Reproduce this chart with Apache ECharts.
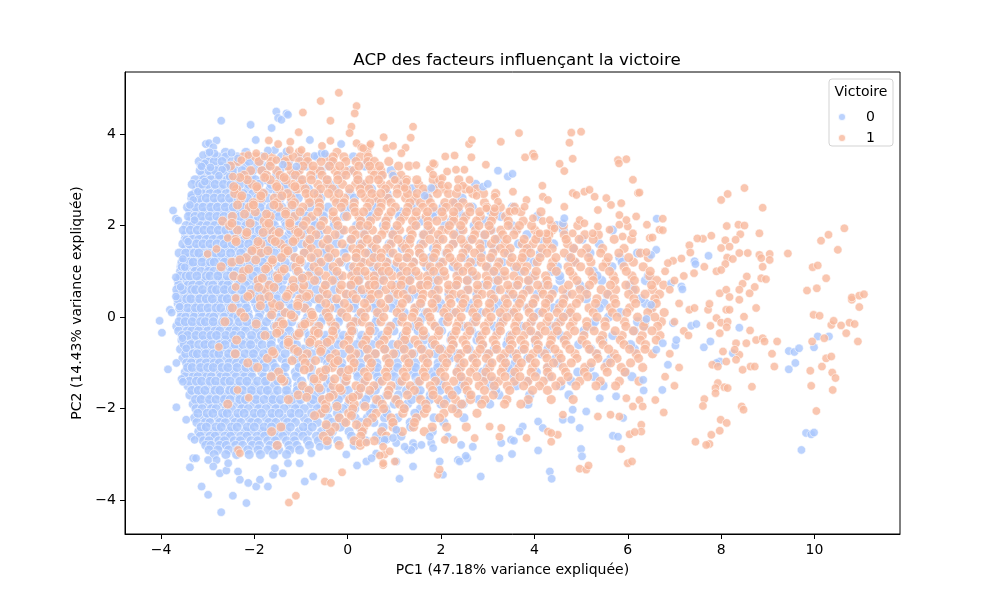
<!DOCTYPE html>
<html>
<head>
<meta charset="utf-8">
<script src="https://cdn.jsdelivr.net/npm/echarts@6/dist/echarts.min.js"></script>
<style>
html, body { margin: 0; padding: 0; background: #fff; }
#main { width: 1000px; height: 600px; }
</style>
</head>
<body>
<div id="main"></div>
<script>
// tick positions
var xTicks = [-4, -2, 0, 2, 4, 6, 8, 10];
var yTicks = [-4, -2, 0, 2, 4];

// Dense part of the cloud, read row by row.
// Each row: PC2 value first, then the PC1 values of the points on that row.
var blueRowsA = [
[3.6, -2.62, -2.18],
[3.5, -2.96, -2.78, -2.61, -2.37, -2.12, -1.84, -1.42, -1.03, -0.64, 0.12],
[3.3, -3.07, -2.91, -2.74, -2.55, -2.41, -2.19, -1.96, -1.71, -1.33, -0.88, -0.41, 0.37],
[3.1, -3.12, -2.94, -2.81, -2.63, -2.45, -2.24, -2.06, -1.77, -1.52, -1.16, -0.72, -0.13, 0.71],
[3.4, -3.18, -3.01, -2.86, -2.69, -2.48, -2.33, -2.11, -1.88, -1.61, -1.27, -0.91, -0.36, 0.42],
[3.2, -3.16, -2.97, -2.83, -2.62, -2.47, -2.26, -2.04, -1.83, -1.46, -1.08, -0.57, 0.06, 0.93],
[2.8, -3.23, -3.05, -2.88, -2.72, -2.51, -2.35, -2.13, -1.92, -1.66, -1.31, -0.84, -0.27, 0.51, 1.38],
[3.0, -3.27, -3.09, -2.93, -2.76, -2.58, -2.39, -2.17, -1.98, -1.74, -1.42, -1.02, -0.46, 0.22, 1.07],
[2.7, -3.28, -3.12, -2.95, -2.79, -2.6, -2.44, -2.24, -2.03, -1.79, -1.51, -1.14, -0.63, 0.05, 0.84, 1.69],
[2.5, -3.29, -3.14, -2.97, -2.81, -2.64, -2.47, -2.28, -2.07, -1.85, -1.58, -1.21, -0.75, -0.15, 0.63, 1.44, 2.31],
[2.9, -3.33, -3.17, -3.0, -2.84, -2.66, -2.5, -2.31, -2.12, -1.9, -1.64, -1.33, -0.96, -0.38, 0.31, 1.16, 1.92, 2.74],
[2.6, -3.34, -3.18, -3.03, -2.86, -2.7, -2.53, -2.35, -2.15, -1.93, -1.72, -1.44, -1.06, -0.58, 0.14, 0.88, 1.73, 2.45]
];
var orangeRowsA = [
[3.6, -1.04, -0.23, 0.41],
[3.5, -2.24, -1.97, -1.63, -1.29, -1.17, -0.86, -0.47, -0.31, -0.08, 0.27, 0.44],
[3.2, -2.08, -1.84, -1.52, -1.21, -1.04, -0.73, -0.59, -0.27, -0.06, 0.13, 0.52, 0.71],
[3.4, -2.35, -1.9, -1.64, -1.34, -1.03, -0.86, -0.57, -0.32, -0.04, 0.18, 0.43, 0.57, 0.88],
[3.1, -2.22, -1.74, -1.45, -1.12, -0.79, -0.55, -0.21, -0.04, 0.21, 0.57, 0.74, 0.97, 1.14],
[3.3, -2.51, -1.66, -1.28, -0.96, -0.74, -0.39, -0.17, 0.24, 0.47, 0.68, 1.09, 1.31],
[2.9, -2.04, -1.54, -1.18, -1.02, -0.64, -0.43, -0.11, 0.17, 0.36, 0.72, 0.91, 1.17, 1.52],
[2.6, -2.29, -1.86, -1.57, -1.21, -0.83, -0.63, -0.29, -0.07, 0.38, 0.61, 0.86, 1.24, 1.43, 1.72],
[3.0, -2.15, -1.66, -1.32, -0.97, -0.78, -0.44, -0.21, 0.22, 0.47, 0.66, 1.02, 1.26, 1.48, 1.83, 1.97, 2.38],
[2.8, -2.38, -1.93, -1.47, -1.08, -0.91, -0.58, -0.33, 0.04, 0.27, 0.46, 0.81, 1.07, 1.26, 1.62, 1.84, 2.07, 2.52, 2.76],
[2.5, -2.02, -1.52, -1.14, -0.82, -0.61, -0.24, -0.08, 0.14, 0.47, 0.72, 0.93, 1.33, 1.56, 1.77, 2.08, 2.26, 2.47, 2.93],
[2.7, -2.42, -1.81, -1.29, -0.89, -0.72, -0.41, -0.19, 0.29, 0.52, 0.71, 1.06, 1.28, 1.49, 1.92, 2.16, 2.33, 2.68, 2.91, 3.17]
];

var blueRowsB = [
[2.3, -3.38, -3.21, -3.05, -2.9, -2.73, -2.55, -2.38, -2.17, -1.98, -1.79, -1.52, -1.27, -0.94, -0.53, -0.06, 0.47, 1.12, 1.85, 2.38, 3.07],
[2.1, -3.37, -3.22, -3.07, -2.91, -2.76, -2.58, -2.42, -2.21, -2.03, -1.83, -1.6, -1.34, -1.05, -0.72, -0.28, 0.26, 0.83, 1.57, 2.22, 2.96],
[2.4, -3.43, -3.26, -3.1, -2.93, -2.79, -2.62, -2.45, -2.26, -2.07, -1.88, -1.66, -1.41, -1.13, -0.81, -0.42, 0.07, 0.61, 1.36, 2.04, 2.67, 3.53],
[2.2, -3.41, -3.27, -3.13, -2.96, -2.8, -2.65, -2.48, -2.3, -2.12, -1.92, -1.7, -1.47, -1.19, -0.88, -0.52, -0.07, 0.48, 1.11, 1.82, 2.49, 3.28, 4.06],
[1.8, -3.47, -3.3, -3.15, -2.99, -2.83, -2.68, -2.5, -2.33, -2.15, -1.95, -1.75, -1.53, -1.26, -0.97, -0.61, -0.18, 0.33, 0.96, 1.62, 2.31, 2.93, 3.84],
[2.0, -3.46, -3.32, -3.16, -3.01, -2.85, -2.7, -2.54, -2.36, -2.18, -1.99, -1.79, -1.57, -1.32, -1.04, -0.7, -0.29, 0.19, 0.77, 1.43, 2.08, 2.71, 3.52, 4.47],
[1.7, -3.48, -3.33, -3.19, -3.03, -2.88, -2.72, -2.56, -2.4, -2.21, -2.02, -1.83, -1.62, -1.38, -1.11, -0.78, -0.39, 0.07, 0.63, 1.28, 1.97, 2.64, 3.21, 4.16, 5.02],
[1.5, -3.47, -3.35, -3.2, -3.05, -2.9, -2.75, -2.59, -2.42, -2.24, -2.05, -1.86, -1.65, -1.43, -1.17, -0.86, -0.48, -0.03, 0.52, 1.17, 1.84, 2.53, 3.14, 3.87, 4.83],
[1.9, -3.52, -3.37, -3.22, -3.08, -2.93, -2.77, -2.61, -2.45, -2.28, -2.09, -1.89, -1.69, -1.47, -1.22, -0.93, -0.57, -0.13, 0.38, 1.01, 1.72, 2.41, 3.08, 3.59, 4.62, 5.67],
[1.6, -3.53, -3.39, -3.24, -3.1, -2.95, -2.8, -2.64, -2.47, -2.3, -2.12, -1.93, -1.73, -1.51, -1.27, -0.99, -0.66, -0.24, 0.27, 0.89, 1.57, 2.26, 2.92, 3.66, 4.41, 5.39]
];
var orangeRowsB = [
[2.2, -2.47, -1.66, -1.14, -0.77, -0.31, -0.02, 0.24, 0.62, 0.87, 1.21, 1.46, 1.68, 2.04, 2.27, 2.53, 2.84, 3.12, 3.38],
[2.4, -2.11, -1.47, -0.96, -0.6, -0.14, 0.13, 0.42, 0.71, 1.02, 1.29, 1.61, 1.83, 2.11, 2.37, 2.61, 2.98, 3.27, 3.57],
[2.1, -2.68, -1.79, -1.24, -0.89, -0.52, -0.24, 0.28, 0.49, 0.82, 1.13, 1.39, 1.72, 1.91, 2.27, 2.48, 2.76, 3.08, 3.44, 3.76],
[2.3, -1.98, -1.33, -1.02, -0.64, -0.31, 0.16, 0.34, 0.66, 0.93, 1.26, 1.47, 1.71, 2.02, 2.27, 2.62, 2.83, 3.14, 3.47, 3.71, 4.14],
[1.9, -2.36, -1.64, -1.12, -0.79, -0.44, -0.08, 0.11, 0.53, 0.78, 1.11, 1.35, 1.78, 2.02, 2.16, 2.47, 2.74, 3.06, 3.28, 3.62, 4.01, 4.38],
[1.6, -1.86, -1.44, -0.87, -0.53, -0.12, 0.31, 0.52, 0.93, 1.17, 1.32, 1.62, 1.91, 2.26, 2.49, 2.83, 3.08, 3.37, 3.74, 3.97, 4.28, 4.71],
[2.0, -2.53, -1.74, -1.24, -0.95, -0.58, -0.21, 0.27, 0.43, 0.82, 1.06, 1.46, 1.72, 2.18, 2.42, 2.81, 3.03, 3.44, 3.68, 3.94, 4.37, 4.62, 4.93],
[1.8, -2.17, -1.53, -1.01, -0.68, -0.27, 0.17, 0.36, 0.73, 0.97, 1.38, 1.63, 1.94, 2.27, 2.72, 2.94, 3.32, 3.56, 4.07, 4.31, 4.64, 5.08, 5.37],
[1.5, -1.97, -1.34, -0.78, -0.39, 0.11, 0.26, 0.61, 0.84, 1.24, 1.53, 1.91, 2.17, 2.58, 2.84, 3.27, 3.48, 3.84, 4.16, 4.38, 4.84, 5.12, 5.46, 5.92],
[1.7, -2.41, -1.62, -1.13, -0.81, -0.43, 0.08, 0.42, 0.63, 1.08, 1.34, 1.76, 2.04, 2.43, 2.67, 3.16, 3.41, 3.78, 4.03, 4.27, 4.68, 4.96, 5.26, 5.71, 6.08]
];

var blueRowsC = [
[1.3, -3.52, -3.41, -3.22, -3.11, -2.9, -2.77, -2.61, -2.38, -2.21, -1.93, -1.74, -1.43, -1.15, -0.71, -0.36, 0.19, 0.61, 1.26, 1.78, 2.51, 3.09, 3.82, 4.74, 5.83],
[1.1, -3.57, -3.36, -3.25, -3.05, -2.96, -2.74, -2.58, -2.47, -2.24, -1.98, -1.81, -1.49, -1.22, -0.84, -0.45, 0.04, 0.55, 1.03, 1.69, 2.26, 2.99, 3.58, 4.49, 5.66],
[1.4, -3.61, -3.47, -3.29, -3.19, -2.99, -2.83, -2.71, -2.51, -2.29, -2.06, -1.86, -1.57, -1.28, -0.93, -0.49, -0.08, 0.45, 0.91, 1.55, 2.11, 2.86, 3.44, 4.13, 5.19, 6.21],
[1.2, -3.55, -3.39, -3.31, -3.12, -2.94, -2.86, -2.64, -2.44, -2.33, -2.09, -1.82, -1.63, -1.34, -0.99, -0.62, -0.14, 0.31, 0.85, 1.41, 1.98, 2.71, 3.31, 3.99, 4.87, 5.88],
[0.8, -3.63, -3.44, -3.33, -3.16, -3.04, -2.81, -2.69, -2.55, -2.35, -2.12, -1.91, -1.66, -1.39, -1.02, -0.66, -0.27, 0.24, 0.69, 1.29, 1.86, 2.57, 3.18, 3.89, 4.55, 5.44, 6.38],
[1.0, -3.58, -3.49, -3.27, -3.14, -2.98, -2.87, -2.72, -2.49, -2.37, -2.16, -1.94, -1.69, -1.45, -1.09, -0.78, -0.31, 0.11, 0.62, 1.13, 1.77, 2.38, 3.11, 3.71, 4.38, 5.26],
[0.7, -3.62, -3.42, -3.32, -3.18, -2.97, -2.89, -2.68, -2.57, -2.34, -2.19, -1.96, -1.71, -1.49, -1.19, -0.81, -0.46, 0.06, 0.47, 1.06, 1.59, 2.31, 2.92, 3.61, 4.21, 4.97, 6.04],
[0.5, -3.64, -3.51, -3.36, -3.17, -3.08, -2.93, -2.74, -2.62, -2.41, -2.21, -1.99, -1.78, -1.53, -1.21, -0.92, -0.54, -0.03, 0.36, 0.96, 1.47, 2.17, 2.77, 3.46, 4.06, 4.69, 5.55],
[0.9, -3.59, -3.46, -3.38, -3.23, -3.03, -2.95, -2.78, -2.58, -2.44, -2.24, -2.03, -1.81, -1.55, -1.33, -0.97, -0.63, -0.19, 0.29, 0.78, 1.38, 1.99, 2.68, 3.29, 3.97, 4.54, 5.34, 6.44],
[0.6, -3.66, -3.53, -3.34, -3.26, -3.11, -2.91, -2.81, -2.64, -2.47, -2.27, -2.06, -1.84, -1.63, -1.38, -1.07, -0.67, -0.28, 0.21, 0.67, 1.27, 1.87, 2.56, 3.17, 3.84, 4.42, 5.09, 6.11]
];
var orangeRowsC = [
[1.2, -2.48, -1.62, -1.02, -0.57, -0.18, 0.32, 0.48, 0.83, 1.06, 1.41, 1.63, 2.04, 2.28, 2.63, 2.86, 3.24, 3.49, 3.71, 4.06, 4.39, 4.87, 5.21, 5.54, 6.12],
[1.4, -1.86, -1.34, -0.93, -0.64, -0.27, 0.19, 0.38, 0.72, 0.97, 1.32, 1.54, 1.88, 2.13, 2.47, 2.72, 3.11, 3.36, 3.77, 3.92, 4.27, 4.64, 5.01, 5.42, 5.81, 6.27],
[1.1, -2.71, -1.71, -1.11, -0.72, -0.31, 0.13, 0.27, 0.66, 0.82, 1.19, 1.37, 1.77, 1.96, 2.36, 2.58, 2.97, 3.21, 3.62, 3.84, 4.36, 4.72, 4.99, 5.47, 5.92, 6.33],
[1.3, -2.17, -1.42, -1.13, -0.78, -0.41, -0.03, 0.18, 0.56, 0.71, 1.09, 1.27, 1.62, 1.84, 2.19, 2.43, 2.86, 3.06, 3.52, 3.74, 4.12, 4.46, 4.78, 5.16, 5.58, 6.02, 6.44],
[0.9, -2.44, -1.51, -0.84, -0.47, -0.11, 0.08, 0.44, 0.57, 0.96, 1.14, 1.53, 1.71, 2.08, 2.34, 2.76, 2.97, 3.37, 3.56, 4.01, 4.24, 4.83, 5.24, 5.69, 6.09, 6.47],
[0.6, -1.76, -1.22, -0.96, -0.52, -0.16, 0.31, 0.48, 0.82, 1.02, 1.39, 1.58, 1.94, 2.17, 2.58, 2.79, 3.27, 3.48, 3.89, 4.16, 4.61, 4.98, 5.43, 5.74, 6.16, 6.53],
[1.0, -2.23, -1.41, -1.06, -0.62, -0.23, 0.21, 0.37, 0.74, 0.88, 1.27, 1.46, 1.84, 2.06, 2.47, 2.67, 3.13, 3.36, 3.79, 4.04, 4.47, 4.76, 5.18, 5.61, 5.97, 6.48],
[0.8, -1.92, -1.17, -0.71, -0.33, 0.14, 0.23, 0.57, 0.77, 1.18, 1.33, 1.72, 1.94, 2.36, 2.56, 3.01, 3.22, 3.67, 3.87, 4.27, 4.91, 5.26, 5.72, 6.14, 6.62],
[0.5, -2.09, -1.28, -0.83, -0.44, -0.03, 0.11, 0.52, 0.66, 1.07, 1.19, 1.62, 1.81, 2.26, 2.43, 2.88, 3.07, 3.54, 3.76, 4.19, 4.38, 4.81, 5.12, 5.57, 6.02, 6.37, 6.68],
[0.7, -1.68, -0.94, -0.48, -0.13, 0.07, 0.46, 0.58, 0.94, 1.14, 1.56, 1.71, 2.16, 2.33, 2.78, 2.99, 3.43, 3.64, 4.07, 4.29, 4.73, 5.18, 5.63, 5.96, 6.51, 6.77]
];

var blueRowsD = [
[0.3, -3.63, -3.51, -3.32, -3.21, -3.04, -2.86, -2.77, -2.55, -2.42, -2.2, -1.97, -1.76, -1.44, -1.24, -0.86, -0.58, -0.19, 0.15, 0.61, 1.02, 1.56, 1.99, 2.67, 3.25, 3.96, 4.54, 5.49, 6.38],
[0.1, -3.56, -3.38, -3.27, -3.12, -2.94, -2.81, -2.63, -2.49, -2.28, -2.14, -1.88, -1.64, -1.39, -1.11, -0.79, -0.43, -0.12, 0.34, 0.69, 1.21, 1.67, 2.27, 2.84, 3.52, 4.09, 4.73, 5.84],
[0.4, -3.64, -3.45, -3.36, -3.17, -3.03, -2.9, -2.69, -2.58, -2.37, -2.21, -2.02, -1.79, -1.52, -1.33, -0.98, -0.71, -0.35, 0.08, 0.43, 0.91, 1.32, 1.87, 2.41, 3.09, 3.63, 4.31, 5.11, 6.28],
[0.2, -3.6, -3.43, -3.26, -3.14, -2.99, -2.82, -2.72, -2.51, -2.33, -2.17, -1.93, -1.71, -1.48, -1.21, -0.94, -0.6, -0.24, 0.14, 0.56, 0.94, 1.48, 1.95, 2.58, 3.13, 3.85, 4.41, 5.39, 6.49],
[-0.2, -3.66, -3.5, -3.39, -3.23, -3.08, -2.92, -2.78, -2.6, -2.44, -2.24, -2.05, -1.82, -1.57, -1.29, -1.0, -0.67, -0.31, 0.06, 0.52, 0.9, 1.43, 1.89, 2.47, 3.14, 3.71, 4.39, 5.24, 6.36],
[0.0, -3.57, -3.47, -3.29, -3.11, -2.96, -2.87, -2.65, -2.46, -2.35, -2.12, -1.9, -1.67, -1.45, -1.17, -0.86, -0.52, -0.16, 0.23, 0.64, 1.11, 1.61, 2.09, 2.73, 3.31, 3.98, 4.61, 5.59],
[-0.3, -3.62, -3.44, -3.34, -3.19, -3.0, -2.84, -2.74, -2.53, -2.39, -2.19, -1.95, -1.78, -1.5, -1.25, -0.94, -0.64, -0.25, 0.12, 0.58, 0.99, 1.51, 2.01, 2.65, 3.21, 3.88, 4.47, 5.06, 6.14],
[-0.5, -3.55, -3.4, -3.3, -3.09, -2.98, -2.79, -2.62, -2.49, -2.26, -2.08, -1.91, -1.64, -1.41, -1.18, -0.84, -0.49, -0.15, 0.28, 0.66, 1.16, 1.63, 2.21, 2.77, 3.44, 4.02, 4.66, 5.46],
[-0.1, -3.61, -3.48, -3.33, -3.15, -3.05, -2.88, -2.68, -2.55, -2.32, -2.16, -1.96, -1.74, -1.47, -1.2, -0.91, -0.57, -0.2, 0.19, 0.61, 1.05, 1.54, 2.04, 2.7, 3.29, 3.94, 4.52, 5.29, 6.21],
[-0.4, -3.54, -3.43, -3.25, -3.1, -2.93, -2.81, -2.61, -2.44, -2.29, -2.06, -1.85, -1.66, -1.39, -1.12, -0.82, -0.47, -0.09, 0.3, 0.73, 1.19, 1.66, 2.23, 2.81, 3.48, 4.05, 4.56, 5.68]
];
var orangeRowsD = [
[0.2, -2.47, -1.58, -0.92, -0.38, 0.02, 0.41, 0.79, 1.13, 1.44, 1.83, 2.12, 2.43, 2.71, 3.04, 3.36, 3.62, 3.88, 4.24, 4.53, 4.79, 5.17, 5.63, 6.04, 6.52],
[0.4, -1.87, -1.03, -0.61, -0.24, 0.18, 0.49, 0.88, 1.27, 1.59, 1.91, 2.18, 2.51, 2.77, 3.13, 3.38, 3.72, 4.01, 4.32, 4.63, 4.97, 5.34, 5.71, 6.13, 6.58],
[0.1, -2.29, -1.34, -0.78, -0.46, -0.13, 0.29, 0.64, 1.06, 1.42, 1.71, 2.06, 2.32, 2.68, 2.97, 3.27, 3.56, 3.89, 4.18, 4.49, 4.77, 5.26, 5.67, 5.98, 6.43, 6.78],
[0.3, -1.61, -1.07, -0.47, -0.07, 0.36, 0.71, 1.17, 1.56, 1.81, 2.21, 2.47, 2.79, 3.04, 3.42, 3.68, 3.97, 4.24, 4.61, 4.9, 5.31, 5.74, 6.17, 6.61],
[-0.1, -2.63, -1.42, -0.82, -0.36, 0.14, 0.31, 0.71, 1.16, 1.51, 1.79, 2.14, 2.38, 2.74, 3.02, 3.33, 3.61, 3.93, 4.27, 4.56, 4.83, 5.12, 5.51, 5.93, 6.36, 6.72],
[-0.4, -1.77, -1.08, -0.71, -0.31, 0.04, 0.43, 0.84, 1.24, 1.62, 1.94, 2.28, 2.56, 2.88, 3.19, 3.52, 3.77, 4.09, 4.38, 4.71, 5.06, 5.46, 5.88, 6.31, 6.69],
[0.0, -2.21, -1.16, -0.74, -0.41, -0.02, 0.37, 0.77, 1.18, 1.38, 1.76, 2.16, 2.43, 2.76, 3.07, 3.41, 3.66, 3.98, 4.31, 4.62, 4.91, 5.34, 5.77, 6.21, 6.58],
[-0.2, -1.52, -0.97, -0.62, -0.27, 0.07, 0.47, 0.92, 1.28, 1.53, 1.87, 2.34, 2.58, 2.93, 3.26, 3.58, 3.83, 4.14, 4.46, 4.77, 5.13, 5.52, 5.96, 6.34, 6.64],
[-0.5, -2.38, -1.27, -0.77, -0.37, 0.02, 0.39, 0.78, 1.22, 1.44, 1.82, 2.23, 2.47, 2.84, 3.12, 3.48, 3.71, 4.02, 4.36, 4.64, 5.02, 5.41, 5.84, 6.27, 6.61],
[-0.3, -1.46, -0.71, -0.32, 0.09, 0.48, 0.86, 1.26, 1.62, 1.96, 2.32, 2.62, 2.96, 3.27, 3.61, 3.92, 4.23, 4.49, 4.86, 5.28, 5.73, 6.12, 6.52]
];

var blueRowsE = [
[-0.7, -3.58, -3.41, -3.3, -3.12, -2.99, -2.81, -2.69, -2.49, -2.35, -2.11, -1.95, -1.69, -1.49, -1.19, -0.95, -0.62, -0.34, 0.05, 0.37, 0.79, 1.16, 1.61, 2.01, 2.6, 3.14, 3.74, 4.29, 5.21, 6.14],
[-0.9, -3.53, -3.37, -3.24, -3.07, -2.93, -2.78, -2.59, -2.45, -2.27, -2.04, -1.86, -1.62, -1.41, -1.13, -0.86, -0.54, -0.22, 0.14, 0.45, 0.88, 1.29, 1.69, 2.19, 2.71, 3.34, 3.86, 4.46, 5.64],
[-0.6, -3.5, -3.36, -3.19, -3.06, -2.9, -2.74, -2.63, -2.41, -2.24, -2.08, -1.83, -1.64, -1.37, -1.1, -0.81, -0.49, -0.2, 0.19, 0.52, 0.96, 1.32, 1.81, 2.25, 2.88, 3.41, 4.04, 4.95, 6.06],
[-0.8, -3.47, -3.31, -3.22, -3.04, -2.87, -2.76, -2.55, -2.4, -2.2, -2.02, -1.8, -1.59, -1.34, -1.06, -0.77, -0.45, -0.11, 0.25, 0.59, 1.03, 1.41, 1.89, 2.36, 2.99, 3.54, 4.15, 5.33],
[-1.2, -3.48, -3.34, -3.2, -3.09, -2.91, -2.73, -2.61, -2.44, -2.23, -2.07, -1.84, -1.6, -1.4, -1.12, -0.8, -0.51, -0.14, 0.2, 0.6, 0.95, 1.4, 1.81, 2.35, 2.89, 3.5, 4.04, 4.93, 5.95],
[-1.0, -3.45, -3.35, -3.16, -3.03, -2.86, -2.75, -2.54, -2.38, -2.24, -2.0, -1.79, -1.61, -1.32, -1.05, -0.79, -0.43, -0.13, 0.27, 0.62, 1.06, 1.45, 1.94, 2.41, 3.04, 3.59, 4.5, 5.56],
[-1.3, -3.48, -3.31, -3.21, -3.02, -2.92, -2.72, -2.6, -2.39, -2.21, -2.05, -1.8, -1.62, -1.35, -1.1, -0.77, -0.48, -0.1, 0.22, 0.64, 1.0, 1.46, 1.86, 2.4, 2.94, 3.56, 4.31, 5.29, 6.09],
[-1.5, -3.42, -3.28, -3.17, -2.99, -2.84, -2.71, -2.52, -2.36, -2.17, -2.0, -1.76, -1.57, -1.3, -1.07, -0.73, -0.44, -0.07, 0.3, 0.64, 1.08, 1.47, 1.96, 2.44, 3.06, 3.61, 4.56, 5.47],
[-1.1, -3.43, -3.33, -3.15, -3.0, -2.88, -2.69, -2.57, -2.37, -2.18, -2.02, -1.77, -1.55, -1.34, -1.04, -0.78, -0.42, -0.12, 0.29, 0.63, 1.07, 1.45, 1.93, 2.39, 3.0, 3.44, 4.29, 5.19],
[-1.4, -3.39, -3.24, -3.13, -2.95, -2.83, -2.64, -2.52, -2.31, -2.16, -1.93, -1.76, -1.5, -1.3, -0.99, -0.72, -0.37, -0.06, 0.34, 0.68, 1.12, 1.51, 2.0, 2.47, 3.12, 3.84, 4.79]
];
var orangeRowsE = [
[-0.8, -2.41, -1.58, -0.87, -0.26, 0.17, 0.59, 0.98, 1.37, 1.74, 2.14, 2.42, 2.77, 3.02, 3.36, 3.61, 3.97, 4.22, 4.52, 4.87, 5.33, 5.71, 6.18, 6.53],
[-0.6, -1.27, -0.62, -0.08, 0.32, 0.69, 1.08, 1.51, 1.87, 2.26, 2.53, 2.89, 3.17, 3.52, 3.79, 4.08, 4.34, 4.68, 5.12, 5.47, 5.92, 6.38],
[-0.9, -1.72, -0.96, -0.37, 0.07, 0.44, 0.83, 1.23, 1.62, 2.04, 2.37, 2.68, 2.97, 3.28, 3.63, 3.91, 4.27, 4.57, 4.91, 5.36, 5.77, 6.23],
[-0.7, -1.14, -0.56, 0.04, 0.42, 0.79, 1.21, 1.58, 1.97, 2.21, 2.56, 2.84, 3.19, 3.47, 3.78, 4.07, 4.44, 4.76, 5.18, 5.59, 6.04, 6.37],
[-1.1, -1.93, -0.82, -0.33, 0.11, 0.48, 0.86, 1.27, 1.66, 2.07, 2.42, 2.71, 3.04, 3.33, 3.67, 3.96, 4.28, 4.62, 5.08, 5.51, 5.86, 6.32],
[-1.4, -1.37, -0.66, -0.04, 0.37, 0.74, 1.16, 1.54, 1.88, 2.27, 2.58, 2.91, 3.23, 3.57, 3.86, 4.19, 4.57, 4.97, 5.41, 5.82, 6.24],
[-1.0, -2.14, -0.91, -0.28, 0.14, 0.51, 0.89, 1.31, 1.71, 2.12, 2.49, 2.76, 3.09, 3.38, 3.72, 4.02, 4.41, 4.79, 5.22, 5.63, 6.06],
[-1.2, -1.48, -0.59, -0.14, 0.36, 0.81, 1.19, 1.62, 1.99, 2.34, 2.63, 2.96, 3.29, 3.58, 3.93, 4.28, 4.67, 5.07, 5.56, 5.94],
[-1.5, -0.97, -0.31, 0.18, 0.56, 0.93, 1.34, 1.77, 2.11, 2.51, 2.82, 3.14, 3.42, 3.77, 4.11, 4.46, 4.89, 5.32, 5.74],
[-1.3, -1.64, -0.53, -0.02, 0.43, 0.84, 1.24, 1.66, 2.08, 2.43, 2.77, 3.08, 3.37, 3.69, 4.02, 4.37, 4.72, 5.14]
];

var blueRowsF = [
[-1.7, -3.38, -3.19, -3.11, -2.93, -2.76, -2.63, -2.44, -2.3, -2.09, -1.94, -1.71, -1.57, -1.31, -1.16, -0.87, -0.68, -0.35, -0.13, 0.22, 0.46, 0.84, 1.09, 1.51, 1.77, 2.21, 2.6, 3.24, 3.9, 4.74],
[-1.9, -3.31, -3.18, -3.0, -2.89, -2.68, -2.58, -2.36, -2.24, -2.01, -1.88, -1.64, -1.49, -1.24, -1.06, -0.78, -0.59, -0.24, 0.02, 0.34, 0.61, 1.0, 1.28, 1.67, 2.0, 2.47, 3.04, 3.86],
[-1.6, -3.34, -3.2, -3.06, -2.84, -2.74, -2.53, -2.43, -2.25, -2.06, -1.86, -1.72, -1.5, -1.31, -1.08, -0.89, -0.57, -0.36, 0.01, 0.24, 0.59, 0.89, 1.26, 1.55, 1.98, 2.34, 3.17],
[-1.8, -3.26, -3.14, -2.96, -2.82, -2.64, -2.52, -2.31, -2.19, -1.96, -1.79, -1.6, -1.44, -1.19, -1.01, -0.74, -0.53, -0.2, 0.06, 0.39, 0.69, 1.06, 1.37, 1.76, 2.12, 2.81],
[-2.2, -3.28, -3.09, -2.97, -2.77, -2.66, -2.45, -2.33, -2.12, -1.97, -1.75, -1.6, -1.37, -1.19, -0.93, -0.73, -0.42, -0.18, 0.16, 0.42, 0.79, 1.07, 1.48, 1.85, 2.49],
[-2.0, -3.25, -3.12, -2.92, -2.82, -2.6, -2.49, -2.27, -2.13, -1.91, -1.75, -1.54, -1.36, -1.12, -0.93, -0.65, -0.43, -0.1, 0.15, 0.53, 0.81, 1.21, 1.56, 2.33],
[-2.3, -3.23, -3.05, -2.95, -2.74, -2.62, -2.41, -2.29, -2.06, -1.92, -1.69, -1.54, -1.29, -1.12, -0.85, -0.65, -0.34, -0.08, 0.28, 0.56, 0.96, 1.34, 2.06],
[-2.5, -3.19, -3.07, -2.87, -2.76, -2.55, -2.43, -2.2, -2.07, -1.84, -1.7, -1.45, -1.3, -1.04, -0.85, -0.56, -0.33, 0.03, 0.32, 0.73, 1.06, 1.81],
[-2.1, -3.21, -3.01, -2.89, -2.68, -2.58, -2.35, -2.22, -2.0, -1.85, -1.62, -1.47, -1.21, -1.04, -0.77, -0.54, -0.22, 0.09, 0.49, 0.84, 1.44],
[-2.4, -3.14, -3.03, -2.82, -2.71, -2.49, -2.37, -2.15, -2.0, -1.79, -1.63, -1.39, -1.23, -0.95, -0.76, -0.45, -0.16, 0.26, 0.76, 1.35],
[-2.6, -3.16, -2.95, -2.84, -2.63, -2.51, -2.29, -2.16, -1.94, -1.78, -1.56, -1.39, -1.14, -0.96, -0.67, -0.4, 0.08, 0.62, 1.14],
[-2.7, -3.09, -2.97, -2.76, -2.64, -2.43, -2.3, -2.07, -1.93, -1.71, -1.55, -1.31, -1.14, -0.86, -0.63, -0.21, 0.38, 0.72],
[-2.8, -3.04, -2.93, -2.74, -2.6, -2.4, -2.25, -2.04, -1.89, -1.66, -1.51, -1.26, -1.09, -0.82, -0.44, 0.14],
[-2.9, -2.97, -2.78, -2.55, -2.36, -2.14, -1.92, -1.71, -1.48, -1.24, -1.03],
[-3.0, -2.86, -2.61, -2.38, -2.11, -1.87, -1.59, -1.31]
];
var orangeRowsF = [
[-1.8, -1.27, -0.54, 0.04, 0.62, 1.03, 1.56, 1.94, 2.31, 2.63, 2.94, 3.41, 3.87, 4.36, 4.83],
[-1.6, -0.83, -0.14, 0.47, 0.88, 1.43, 1.82, 2.17, 2.56, 2.93, 3.47, 3.96, 4.28],
[-1.9, -2.57, -0.47, 0.14, 0.74, 1.11, 1.67, 2.07, 2.44, 2.87, 3.36, 3.71],
[-1.7, -1.06, -0.31, 0.23, 0.86, 1.28, 1.83, 2.24, 2.64, 3.12],
[-2.1, -0.57, 0.02, 0.61, 1.18, 1.64, 2.06, 2.36, 2.77],
[-2.4, -1.43, -0.27, 0.34, 0.97, 1.41, 1.81, 2.12, 2.54],
[-2.0, -0.48, 0.11, 0.77, 1.21, 1.69, 2.24],
[-2.2, -0.18, 0.53, 0.93, 1.47, 1.97],
[-2.5, -1.63, -0.37, 0.31, 0.73, 1.17, 1.64],
[-2.3, -0.04, 0.42, 0.97, 1.43],
[-2.6, -0.52, 0.28, 0.83],
[-2.7, -0.44, 0.14, 0.57],
[-2.8, -1.51, -0.18, 0.27]
];

// orange points mixed into the blue side of the cloud
var orangeRowsG = [
[3.05, -2.31, -1.78, -1.36],
[2.85, -2.44, -1.95, -1.52, -1.13],
[2.65, -2.27, -1.86, -1.41],
[2.45, -2.36, -2.02, -1.58, -1.19],
[2.25, -2.21, -1.74, -1.33],
[2.05, -2.48, -2.09, -1.69, -1.24],
[1.85, -2.16, -1.81, -1.47, -1.06],
[1.65, -2.39, -1.92, -1.55, -1.17],
[1.45, -2.05, -1.71, -1.28],
[1.25, -2.31, -1.97, -1.61, -1.02],
[1.05, -2.12, -1.76, -1.36],
[0.85, -2.27, -1.83, -1.49, -0.97],
[0.65, -1.91, -1.58, -1.15],
[0.45, -2.14, -1.69, -1.31, -0.88],
[0.25, -1.87, -1.46, -1.07],
[0.05, -1.63, -1.21, -0.76],
[-0.15, -1.96, -1.38, -0.92],
[-0.35, -1.52, -1.04, -0.63],
[-0.55, -1.27, -0.81, -0.44],
[-0.75, -1.61, -1.07, -0.58],
[-0.95, -1.19, -0.69, -0.21],
[-1.15, -0.93, -0.47, 0.02],
[-1.35, -1.42, -0.72, -0.28],
[-1.55, -0.61, -0.17, 0.28],
[-1.75, -0.88, -0.39, 0.11],
[-1.95, -0.23, 0.37],
[-2.15, -0.71, 0.08],
[-2.35, -0.46, 0.19]
];

// Scattered points outside the dense cloud, read one by one: [PC1, PC2]
var blueSparse = [
[-2.71,4.29],[-2.08,4.2],[-1.63,4.13],[-1.53,4.49],[-1.49,4.35],[-1.42,4.31],[-1.31,4.45],[-1.28,4.42],[-1.97,3.87],[-0.81,3.87],
[-0.71,3.52],[-0.56,3.58],[-0.14,3.78],[-0.49,3.57],[-3.04,3.78],[-2.97,3.8],[-2.81,3.86],[-2.88,3.71],[-2.99,3.58],[-2.85,3.57],
[-2.49,3.59],[-3.1,3.54],[-2.96,3.6],[-2.35,3.47],[-1.56,3.65],[-1.71,3.64],[-1.31,3.62],[-3.15,3.31],[-3.06,3.36],
[-3.13,3.29],[-2.94,3.27],[-2.6,3.27],[-2.69,3.22],[-2.76,3.09],[-2.53,3.07],[-1.39,3.33],[-1.1,3.29],[-3.35,2.67],[-3.31,2.56],
[-3.21,2.74],[-3.12,2.89],[-3.06,2.96],[-3.38,2.45],[3.22,3.2],[3.43,3.07],[3.53,3.13],[2.9,2.85],[3.0,2.91],[1.79,2.82],
[1.65,2.65],[0.97,3.09],[4.61,2.05],[4.64,2.16],[6.62,2.15],[6.61,1.47],[6.5,1.36],[-3.46,1.69],[-3.42,1.65],[-3.74,2.33],
[-3.68,2.15],[-3.63,2.11],[-3.28,2.12],[6.93,0.74],[7.15,0.67],[7.17,0.61],[7.43,1.22],[7.45,1.16],[7.73,1.34],[-3.53,1.27],
[-3.56,1.1],[-3.49,1.09],[-3.68,0.87],[-3.58,0.66],[-3.68,0.45],[-3.6,0.23],[-3.81,0.16],[-3.77,0.1],[-4.03,-0.08],[-3.98,-0.34],
[-3.54,-0.46],[6.4,-0.04],[6.5,0.27],[6.97,-0.13],[7.36,-0.19],[7.47,-0.15],[8.39,-0.23],[-3.46,-0.68],[-3.67,-1.0],[-3.85,-1.14],
[-3.56,-1.35],[-3.53,-1.41],[6.75,-0.57],[7.02,-0.62],[7.04,-0.5],[6.61,-0.71],[6.86,-1.04],[7.63,-0.66],[7.77,-0.53],[7.97,-0.97],
[7.9,-1.0],[8.25,-0.79],[9.45,-0.74],[9.57,-0.76],[9.67,-0.68],[9.59,-1.0],[9.45,-1.14],[9.99,-0.66],[10.07,-0.42],[10.31,-0.42],
[6.33,-1.37],[-3.67,-1.97],[-3.46,-2.24],[5.4,-1.77],[5.75,-1.73],[5.9,-2.2],[4.61,-2.24],[4.79,-2.24],[4.82,-2.02],[5.11,-2.06],
[4.08,-2.28],[3.75,-2.39],[4.18,-2.42],[4.97,-2.42],[1.04,-2.46],[6.34,-1.6],[6.74,-1.59],
[-3.35,-2.61],[-3.28,-2.68],[-3.31,-3.08],[-2.71,-4.26],[-2.17,-4.06],[-2.46,-3.9],[-3.13,-3.7],[-2.99,-3.88],[-3.38,-3.28],[-3.25,-3.08],
[-2.99,-3.12],[-2.81,-3.12],[-2.88,-3.26],[-2.74,-3.41],[-2.6,-3.35],[-2.56,-3.19],[-2.35,-3.37],[-2.31,-3.55],[-2.13,-3.62],[-1.96,-3.7],
[-1.88,-3.55],[-1.71,-3.7],[-1.6,-3.44],[-1.56,-3.3],[-1.39,-3.41],[-1.28,-3.19],[-1.03,-3.19],[-0.92,-3.59],[-0.74,-3.48],[-0.78,-2.97],
[-0.6,-2.83],[-0.03,-3.0],[0.2,-3.24],[0.4,-3.15],[0.61,-2.98],[0.51,-3.08],[0.83,-2.68],[1.29,-2.9],[1.4,-2.75],[1.04,-3.15],
[1.4,-3.26],[1.79,-2.75],[1.97,-3.15],[2.15,-2.61],[2.36,-3.12],[1.11,-3.53],[2.04,-3.44],[2.85,-3.48],[4.33,-3.37],[4.37,-3.53],
[2.4,-3.15],[2.56,-3.08],[2.53,-3.03],[3.25,-3.08],[3.52,-2.99],[4.08,-2.91],[5.0,-2.88],[5.02,-3.04],[5.68,-2.59],[5.79,-2.61],
[3.29,-2.75],[3.5,-2.68],[3.56,-2.7],[2.43,-2.79],[2.68,-2.83],[1.43,-2.83],[1.36,-2.9],[1.22,-2.83],[1.04,-2.75],[0.97,-2.64],
[0.79,-2.68],[1.76,-2.61],[1.83,-2.86],[1.58,-2.79],[3.68,-2.5],[9.82,-2.53],[9.93,-2.56],[9.99,-2.52],[9.72,-2.9]
];
var orangeSparse = [
[-0.19,4.9],[-0.58,4.72],[0.19,4.61],[0.15,4.45],[-0.37,4.29],[0.08,4.16],[0.04,4.02],[-0.96,4.47],[-1.05,4.04],[-1.69,3.86],
[-1.23,3.83],[-0.99,3.65],[-0.55,3.74],[-0.37,3.85],[0.19,3.8],[0.29,3.71],[0.47,3.74],[-2.13,3.54],[-1.96,3.58],[-1.78,3.51],
[-1.53,3.43],[-1.24,3.65],[-1.49,3.78],[-2.28,3.43],[0.49,3.78],[0.33,3.69],[1.4,4.16],[0.77,3.93],[1.35,3.92],[0.83,3.69],
[0.97,3.74],[1.24,3.7],[1.15,3.58],[2.6,3.78],[2.66,3.87],[3.28,3.83],[3.67,4.02],[4.79,4.03],[5.0,4.05],[4.75,3.81],
[3.8,3.49],[3.97,3.57],[4.0,3.51],[4.54,3.35],[4.64,3.19],[4.82,3.46],[5.79,3.43],[5.97,3.45],[5.81,3.36],[2.29,3.53],
[2.09,3.51],[2.65,3.49],[2.96,3.33],[1.47,3.32],[1.76,3.23],[1.86,3.34],[1.83,3.11],[1.83,3.36],[2.03,3.04],[2.13,3.18],
[2.61,3.0],[2.5,3.22],[2.32,3.22],[1.01,3.0],[1.26,2.96],[1.22,2.82],[2.01,2.89],[2.15,2.87],[2.47,2.87],[2.61,2.78],
[2.36,2.82],[2.76,2.65],[3.15,2.63],[3.22,2.52],[3.83,2.56],[4.18,2.63],[4.17,2.87],[3.54,2.74],[5.29,2.63],[5.54,2.6],
[5.07,2.74],[5.18,2.78],[4.82,2.71],[4.9,2.67],[6.11,3.0],[6.22,2.71],[4.29,2.56],[6.25,2.72],[-2.46,3.07],[8.5,2.82],
[8.14,2.69],[8.0,2.56],[4.97,2.12],[5.07,2.05],[4.82,1.83],[5.25,1.83],[5.36,1.98],[5.61,1.91],[5.82,2.02],[6.0,1.98],
[6.11,1.83],[5.89,1.76],[3.97,2.16],[4.18,2.1],[4.33,2.12],[4.43,1.94],[4.26,1.83],[4.11,1.83],[5.36,2.34],[5.64,2.45],
[5.86,2.49],[5.82,2.23],[5.97,2.12],[6.18,2.2],[3.47,2.31],[3.58,2.32],[3.79,2.41],[4.64,2.41],[2.97,2.38],[3.15,2.38],
[8.89,2.39],[6.75,2.15],[6.41,2.02],[6.68,1.91],[6.75,1.9],[8.12,1.99],[8.37,2.02],[8.5,2.0],[8.41,1.81],[8.82,1.83],
[7.79,1.78],[7.61,1.71],[7.49,1.72],[8.09,1.68],[8.31,1.69],[8.0,1.51],[8.18,1.54],[7.32,1.57],[6.47,1.73],[6.53,1.74],
[10.14,1.67],[10.3,1.8],[10.64,1.94],[10.5,1.47],[-2.57,1.73],[6.4,1.42],[8.39,1.4],[8.57,1.4],[8.13,1.3],[8.25,1.27],
[8.82,1.36],[8.86,1.29],[9.04,1.38],[9.04,1.25],[9.43,1.39],[7.15,1.28],[6.97,1.23],[6.86,1.18],[7.64,1.1],[8.09,1.16],
[7.9,1.0],[8.0,1.03],[8.89,1.1],[7.42,0.96],[8.55,0.89],[8.46,0.73],[8.39,0.6],[8.72,0.66],[8.86,0.85],[8.96,0.83],
[9.96,1.09],[10.07,1.13],[10.25,0.85],[9.84,0.58],[10.05,0.63],[7.34,1.41],[6.8,1.0],[7.0,0.8],[6.9,0.6],[7.2,0.9],
[-2.81,1.49],[-3.0,1.38],[-2.4,0.66],[7.32,0.16],[7.43,0.2],[7.72,0.16],[7.75,0.29],[8.11,0.16],[8.18,0.16],[8.39,0.38],
[8.75,0.2],[7.97,0.52],[8.11,0.6],[8.18,0.44],[8.61,0.52],[7.77,-0.19],[7.9,-0.02],[8.0,-0.12],[8.14,-0.1],[8.12,-0.22],
[7.97,-0.35],[8.49,0.01],[8.62,-0.29],[9.98,0.05],[10.11,0.03],[10.36,-0.17],[10.41,-0.08],[10.57,-0.18],[10.68,-0.35],[10.75,-0.12],
[10.86,-0.15],[10.96,0.22],[10.8,0.38],[10.8,0.43],[10.96,0.47],[11.06,0.5],[7.1,0.3],[7.0,-0.1],[7.2,-0.3],[-2.4,0.42],
[8.32,-0.57],[8.54,-0.57],[8.75,-0.5],[8.89,-0.46],[8.93,-0.53],[9.2,-0.53],[9.09,-0.8],[9.14,-1.08],[8.63,-1.08],[8.72,-1.08],
[8.39,-0.82],[8.46,-1.15],[8.32,-0.93],[8.29,-0.71],[8.04,-0.75],[7.81,-1.04],[7.93,-1.08],[8.11,-0.97],[7.93,-1.44],[7.88,-1.55],
[7.88,-1.66],[8.07,-1.53],[8.14,-1.55],[8.66,-1.52],[7.0,-1.5],[9.95,-0.53],[10.21,-0.46],[10.93,-0.53],[10.16,-1.08],[10.25,-0.9],
[10.36,-0.86],[10.38,-1.21],[10.45,-1.33],[10.39,-1.59],[9.91,-1.17],[9.93,-1.5],[6.9,-0.8],[7.1,-1.1],[6.8,-1.3],[7.3,-0.4],
[-2.76,-0.65],[5.97,-1.77],[6.11,-1.95],[5.36,-2.17],[5.63,-2.13],[5.82,-2.17],[4.61,-2.13],[3.04,-2.39],[3.29,-2.42],[7.64,-1.79],
[7.61,-1.94],[8.44,-1.95],[8.48,-2.02],[7.99,-2.24],[8.12,-2.31],[7.97,-2.48],[6.59,-1.81],[6.25,-1.81],[6.32,-1.95],[6.77,-2.08],
[6.29,-2.35],[6.29,-2.5],[10.04,-2.05],[-2.36,-1.59],[-2.12,-1.76],
[-1.26,-4.05],[-1.11,-3.9],[-0.49,-3.59],[-0.36,-3.62],[-0.12,-3.39],[0.26,-2.75],[0.4,-2.74],[-2.35,-2.9],[-2.31,-2.97],[0.76,-3.23],
[0.79,-3.0],[0.69,-3.02],[1.93,-3.44],[1.97,-3.33],[4.97,-3.31],[5.11,-3.33],[5.16,-3.24],[0.76,-3.19],[1.01,-3.15],[6.0,-3.19],
[6.09,-3.15],[5.86,-2.88],[6.04,-2.56],[6.15,-2.51],[3.25,-2.61],[3.83,-2.64],[4.36,-2.72],[4.5,-2.57],[2.08,-2.68],[2.27,-2.68],
[2.72,-2.64],[0.76,-2.83],[0.9,-2.93],[4.29,-2.5],[4.36,-2.53],[7.75,-2.77],[7.68,-2.79],[7.45,-2.72],[7.79,-2.57]
];

var blueColor = '#aac7fd';
var orangeColor = '#f7b89c';

// turn [y, x1, x2, ...] rows into [x, y] points
function rowsToPoints(rows) {
    var pts = [];
    rows.forEach(function (r) {
        for (var i = 1; i < r.length; i++) {
            pts.push([r[i], r[0]]);
        }
    });
    return pts;
}

var blueDense = [].concat(
    rowsToPoints(blueRowsA), rowsToPoints(blueRowsB), rowsToPoints(blueRowsC),
    rowsToPoints(blueRowsD), rowsToPoints(blueRowsE), rowsToPoints(blueRowsF)
);
var orangeDense = [].concat(
    rowsToPoints(orangeRowsA), rowsToPoints(orangeRowsB), rowsToPoints(orangeRowsC),
    rowsToPoints(orangeRowsD), rowsToPoints(orangeRowsE), rowsToPoints(orangeRowsF),
    rowsToPoints(orangeRowsG)
);

var chart = echarts.init(document.getElementById('main'));

function minusSign(v) {
    return String(v).replace('-', '\u2212');
}

function pointStyle(c) {
    return {
        color: c,
        opacity: 0.8,
        borderColor: '#ffffff',
        borderWidth: 0.7
    };
}

function scatterSeries(name, color, size, data) {
    return {
        name: name,
        type: 'scatter',
        symbolSize: size,
        silent: true,
        itemStyle: pointStyle(color),
        data: data
    };
}

var option = {
    animation: false,
    backgroundColor: '#ffffff',
    textStyle: { fontFamily: 'DejaVu Sans' },
    title: {
        text: 'ACP des facteurs influençant la victoire',
        left: 512,
        textAlign: 'center',
        top: 47,
        textStyle: { fontFamily: 'DejaVu Sans', fontSize: 16.7, fontWeight: 'normal', color: '#000' }
    },
    legend: {
        orient: 'vertical',
        left: 832,
        top: 104,
        itemWidth: 38,
        itemHeight: 8,
        itemGap: 5,
        icon: 'circle',
        data: ['0', '1'],
        textStyle: { fontFamily: 'DejaVu Sans', fontSize: 14, color: '#000', lineHeight: 16 }
    },
    graphic: [
        {
            type: 'rect',
            shape: { x: 829, y: 79, width: 64, height: 67, r: 3 },
            style: { fill: 'rgba(255,255,255,0.8)', stroke: '#d3d3d3', lineWidth: 1 },
            z: 0
        },
        {
            type: 'text',
            x: 861,
            y: 92,
            style: {
                text: 'Victoire',
                fill: '#000',
                font: '14px "DejaVu Sans"',
                textAlign: 'center',
                textVerticalAlign: 'middle'
            },
            z: 1
        }
    ],
    grid: {
        left: 125,
        right: 100,
        top: 72,
        bottom: 66,
        show: true,
        borderColor: '#000',
        borderWidth: 1,
        backgroundColor: 'transparent'
    },
    xAxis: {
        type: 'value',
        min: -4.771,
        max: 11.832,
        name: 'PC1 (47.18% variance expliquée)',
        nameLocation: 'middle',
        nameGap: 29,
        nameTextStyle: { fontFamily: 'DejaVu Sans', fontSize: 14, color: '#000' },
        axisLine: { show: true, onZero: false, lineStyle: { color: '#000', width: 1 } },
        axisTick: { show: true, length: 5, lineStyle: { color: '#000' }, customValues: xTicks },
        axisLabel: { color: '#000', fontSize: 14, margin: 9, customValues: xTicks, formatter: minusSign },
        splitLine: { show: false }
    },
    yAxis: {
        type: 'value',
        min: -4.736,
        max: 5.354,
        name: 'PC2 (14.43% variance expliquée)',
        nameLocation: 'middle',
        nameGap: 36,
        nameRotate: 90,
        nameTextStyle: { fontFamily: 'DejaVu Sans', fontSize: 14, color: '#000' },
        axisLine: { show: true, onZero: false, lineStyle: { color: '#000', width: 1 } },
        axisTick: { show: true, length: 5, lineStyle: { color: '#000' }, customValues: yTicks },
        axisLabel: { color: '#000', fontSize: 14, margin: 9, customValues: yTicks, formatter: minusSign },
        splitLine: { show: false }
    },
    series: [
        scatterSeries('0', blueColor, 9.8, blueDense),
        scatterSeries('1', orangeColor, 9.8, orangeDense),
        scatterSeries('0', blueColor, 8.5, blueSparse),
        scatterSeries('1', orangeColor, 8.5, orangeSparse)
    ]
};
chart.setOption(option);
</script>
</body>
</html>
